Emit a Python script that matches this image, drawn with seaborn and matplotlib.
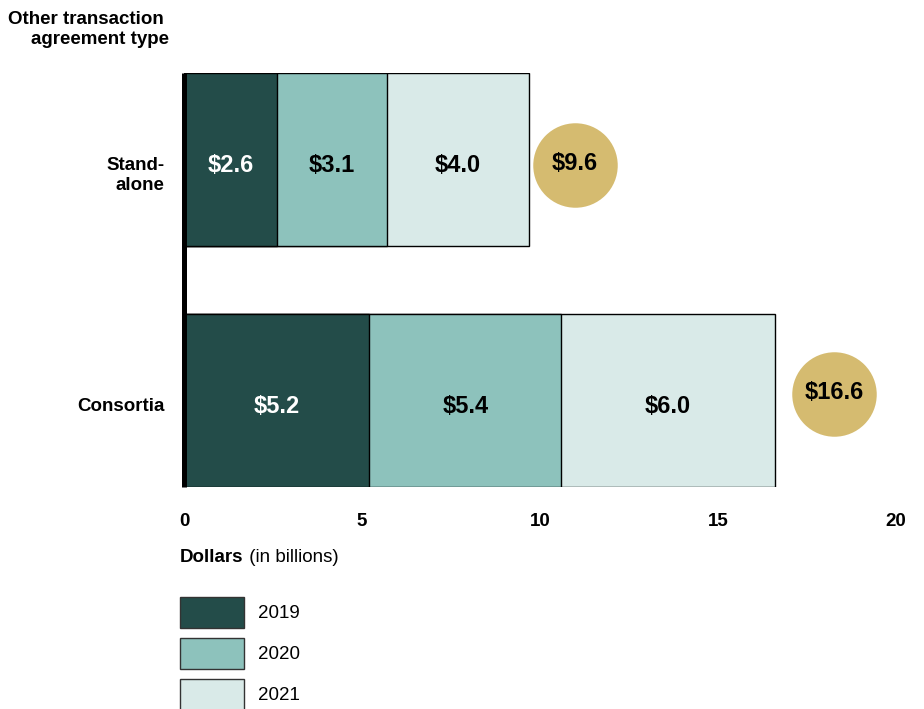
import numpy as np
import pandas as pd
import matplotlib
matplotlib.use("Agg")
import matplotlib.pyplot as plt
import seaborn as sns
from matplotlib.patches import Patch

# ---- data ----
categories = ["Stand-\nalone", "Consortia"]
years = ["2019", "2020", "2021"]
v2019 = [2.6, 5.2]
v2020 = [3.1, 5.4]
v2021 = [4.0, 6.0]
totals = [9.6, 16.6]
xticks = [0, 5, 10, 15, 20]

colors = ["#234C49", "#8DC2BC", "#D9EAE8"]
text_colors = ["white", "black", "black"]
circle_color = "#D5BB70"

sns.set_theme(style="white")
plt.rcParams["font.family"] = ["Liberation Sans", "DejaVu Sans"]
plt.rcParams["text.color"] = "black"
plt.rcParams["axes.labelcolor"] = "black"
plt.rcParams["xtick.color"] = "black"
plt.rcParams["ytick.color"] = "black"

df = pd.DataFrame({"type": categories, "2019": v2019, "2020": v2020, "2021": v2021})
cum = df[years].cumsum(axis=1)
cum["type"] = df["type"]

W, H = 924, 709
fig = plt.figure(figsize=(W / 100, H / 100), dpi=100)
ax = fig.add_axes([184 / W, 1 - 487 / H, 712 / W, 414 / H])

bar_w = 0.718
for yr, col in reversed(list(zip(years, colors))):
    sns.barplot(data=cum, x=yr, y="type", orient="h", order=categories,
                color=col, saturation=1, width=bar_w, edgecolor="black",
                linewidth=1, ax=ax, zorder=2)

# segment labels
for i, cat in enumerate(categories):
    left = 0
    for j, yr in enumerate(years):
        v = df.loc[i, yr]
        ax.annotate(f"${v:.1f}", xy=(left + v / 2, i), xytext=(0, -4.5),
                    textcoords="offset points", ha="center", va="center",
                    fontsize=17, fontweight="bold", color=text_colors[j],
                    zorder=4)
        left += v

# total circles (placement offsets to the right of each bar)
circ_dx = [1.38, 1.66]
circ_dy = [0.021, -0.029]
cx = np.array(totals) + np.array(circ_dx)
cy = np.arange(len(categories)) + np.array(circ_dy)
ax.scatter(cx, cy, s=3700, color=circle_color, clip_on=False, zorder=3,
           linewidths=0)
for i, t in enumerate(totals):
    ax.annotate(f"${t:.1f}", xy=(cx[i], cy[i]), xytext=(0, 1),
                textcoords="offset points", ha="center", va="center",
                fontsize=17, fontweight="bold", color="black", zorder=5)

ax.set_xlim(0, 20)
ax.set_ylim(len(categories) - 1 + bar_w / 2, -bar_w / 2)
ax.set_xticks(xticks)
ax.set_xticklabels([str(t) for t in xticks])
ax.set_yticks([])
ax.set_xlabel("")
ax.set_ylabel("")
for s in ["top", "right", "bottom"]:
    ax.spines[s].set_visible(False)
ax.spines["left"].set_linewidth(3.6)
ax.spines["left"].set_color("black")
ax.spines["left"].set_capstyle("butt")
ax.spines["left"].set_zorder(6)
ax.tick_params(axis="x", length=0, pad=19, labelsize=13.5, labelcolor="black")
for lab in ax.get_xticklabels():
    lab.set_fontweight("bold")

# category labels
for i, cat in enumerate(categories):
    ax.annotate(cat, xy=(0, i), xycoords=("axes fraction", "data"),
                xytext=(-14, 1.7), textcoords="offset points", ha="right",
                va="top", fontsize=13.5, fontweight="bold", linespacing=1.25,
                color="black", annotation_clip=False)

# title at top-left
fig.text(164 / W, 1 - 23.5 / H, "Other transaction", ha="right",
         va="baseline", fontsize=13.5, fontweight="bold", color="black")
fig.text(169 / W, 1 - 44.5 / H, "agreement type", ha="right",
         va="baseline", fontsize=13.5, fontweight="bold", color="black")

# x-axis label with mixed weights
t1 = fig.text(180 / W, 1 - 557 / H, "Dollars", ha="left", va="center",
              fontsize=13.5, fontweight="bold", color="black")
ax.annotate(" (in billions)", xy=(1, 0), xycoords=t1, ha="left", va="bottom",
            fontsize=13.5, color="black")

# legend
fs = 13.5
handles = [Patch(facecolor=c, edgecolor="#333333", linewidth=1) for c in colors]
leg = fig.legend(handles, years, loc="upper left",
                 bbox_to_anchor=(180 / W, 1 - 597 / H), frameon=False,
                 fontsize=fs, handlelength=3.41, handleheight=2.166,
                 labelspacing=0.533, handletextpad=0.75, borderpad=0,
                 borderaxespad=0)
for t in leg.get_texts():
    t.set_color("black")

fig.savefig("out.png", dpi=100)
